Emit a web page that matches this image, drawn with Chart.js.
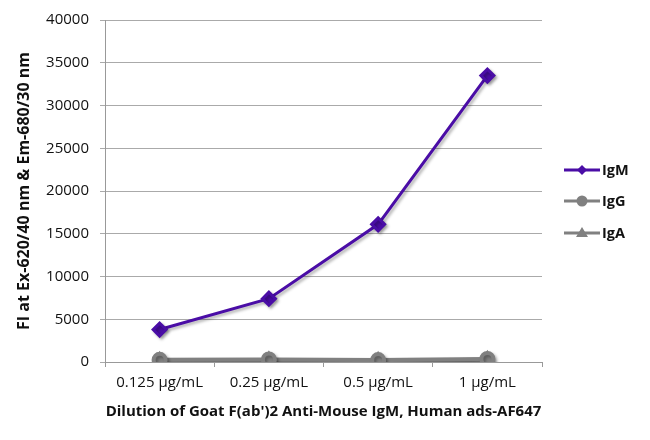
<!DOCTYPE html>
<html lang="en">
<head>
<script src="https://cdn.jsdelivr.net/npm/chart.js@4"></script>
<style>
  body { margin: 0; background: #fff; }
  #wrap { width: 650px; height: 440px; }
</style>
</head>
<body>
<div id="wrap"><canvas id="chart"></canvas></div>
<script>
const categories = ["0.125 µg/mL", "0.25 µg/mL", "0.5 µg/mL", "1 µg/mL"];
const igm = [3800, 7400, 16100, 33500];
const igg = [250, 300, 220, 350];
const iga = [150, 200, 150, 250];
const yTicks = [0, 5000, 10000, 15000, 20000, 25000, 30000, 35000, 40000];

const purple = "#4a0da6";
const grey = "#808080";
const fontFam = "'Open Sans', 'Liberation Sans', sans-serif";

// line + marker legend, Excel style
const sideLegend = {
    id: "sideLegend",
    afterDraw(chart) {
        const ctx = chart.ctx;
        const x0 = 564, ys = [170, 201, 233];
        chart.data.datasets.forEach((ds, i) => {
            const y = ys[i];
            ctx.save();
            ctx.strokeStyle = ds.borderColor;
            ctx.lineWidth = 3;
            ctx.beginPath();
            ctx.moveTo(x0, y);
            ctx.lineTo(x0 + 36, y);
            ctx.stroke();
            ctx.fillStyle = ds.borderColor;
            ctx.beginPath();
            const cx = x0 + 18;
            if (ds.pointStyle === "rectRot") {
                ctx.moveTo(cx, y - 5); ctx.lineTo(cx + 5, y); ctx.lineTo(cx, y + 5); ctx.lineTo(cx - 5, y);
            } else if (ds.pointStyle === "triangle") {
                ctx.moveTo(cx, y - 6); ctx.lineTo(cx + 6, y + 4); ctx.lineTo(cx - 6, y + 4);
            } else {
                ctx.arc(cx, y, 5.5, 0, Math.PI * 2);
            }
            ctx.fill();
            ctx.fillStyle = "#111";
            ctx.font = "bold 14.5px " + fontFam;
            ctx.textBaseline = "middle";
            ctx.fillText(ds.label, x0 + 38, y + 1);
            ctx.restore();
        });
    }
};

const shadow = {
    id: "shadow",
    beforeDatasetsDraw(chart) {
        const ctx = chart.ctx;
        ctx.save();
        ctx.shadowColor = "rgba(0,0,0,0.3)";
        ctx.shadowBlur = 3;
        ctx.shadowOffsetX = 2;
        ctx.shadowOffsetY = 2;
    },
    afterDatasetsDraw(chart) {
        chart.ctx.restore();
    }
};

new Chart(document.getElementById("chart"), {
    type: "line",
    data: {
        labels: categories,
        datasets: [
            { label: "IgM", data: igm, borderColor: purple, backgroundColor: purple, borderWidth: 3,
              pointStyle: "rectRot", pointRadius: 6.5, pointHoverRadius: 6.5 },
            { label: "IgG", data: igg, borderColor: grey, backgroundColor: grey, borderWidth: 4,
              pointStyle: "circle", pointRadius: 6, pointHoverRadius: 6 },
            { label: "IgA", data: iga, borderColor: grey, backgroundColor: grey, borderWidth: 4,
              pointStyle: "triangle", pointRadius: 6, pointHoverRadius: 6 }
        ]
    },
    options: {
        responsive: true,
        maintainAspectRatio: false,
        animation: false,
        layout: { padding: { top: 19, right: 108, left: 0, bottom: 0 } },
        plugins: { legend: { display: false }, tooltip: { enabled: false } },
        scales: {
            x: {
                offset: true,
                grid: { display: true, drawOnChartArea: false, offset: true, tickLength: 5, color: "#999" },
                border: { color: "#999" },
                ticks: { color: "#111", font: { family: fontFam, size: 15 }, padding: 7, maxRotation: 0 },
                title: { display: true, text: "Dilution of Goat F(ab')2 Anti-Mouse IgM, Human ads-AF647",
                         color: "#111", font: { family: fontFam, size: 15, weight: "bold" }, padding: { top: 4, bottom: 19 } },
                afterFit(scale) { scale.height = 78; }
            },
            y: {
                min: 0,
                max: 40000,
                afterBuildTicks(scale) { scale.ticks = yTicks.map(v => ({ value: v })); },
                grid: { color: "#aaa", tickLength: 5 },
                border: { color: "#999" },
                ticks: { color: "#111", font: { family: fontFam, size: 15 }, padding: 11, callback: v => String(v) },
                title: { display: true, text: "FI at Ex-620/40 nm & Em-680/30 nm",
                         color: "#111", font: { family: fontFam, size: 16, weight: "bold" }, padding: { top: 15, bottom: 4 } },
                afterFit(scale) { scale.width = 105; }
            }
        }
    },
    plugins: [shadow, sideLegend]
});
</script>
</body>
</html>
